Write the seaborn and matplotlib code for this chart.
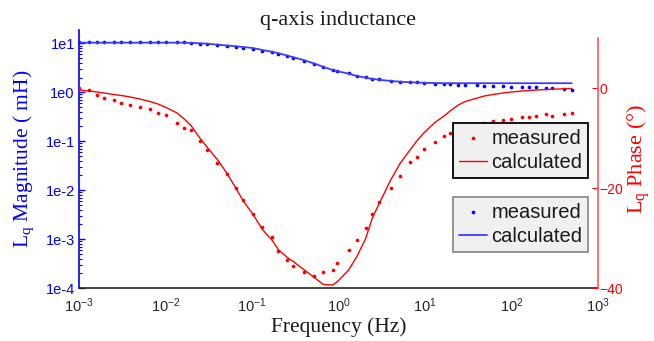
import numpy as np
import pandas as pd
import seaborn as sns
import matplotlib.pyplot as plt
from matplotlib.ticker import LogLocator, NullFormatter

# measurement frequencies (Hz)
freq = [0.001, 0.0013, 0.00163, 0.00196, 0.00252, 0.00308, 0.00392, 0.00504, 0.00656, 0.00818,
        0.0102, 0.0136, 0.0165, 0.0199, 0.0252, 0.0302, 0.0397, 0.0511, 0.0649, 0.0793,
        0.102, 0.132, 0.170, 0.201, 0.256, 0.300, 0.403, 0.516, 0.667, 0.857,
        0.962, 1.31, 1.62, 2.06, 2.46, 2.94, 4.01, 5.14, 6.71, 8.02,
        9.66, 13.2, 16.6, 19.5, 24.3, 29.2, 40.3, 48.5, 61.1, 79.1,
        99.5, 132, 161, 194, 252, 296, 407, 497]

# magnitude (mH)
mag_measured = [10.5, 10.5, 10.5, 10.5, 10.5, 10.5, 10.5, 10.5, 10.5, 10.5,
                10.5, 10.4, 10.4, 10.2, 9.7, 9.7, 9.1, 8.7, 8.4, 7.9,
                7.7, 7.0, 6.55, 5.96, 5.42, 5.1, 4.43, 3.85, 3.29, 2.90,
                2.77, 2.44, 2.19, 2.02, 1.87, 1.87, 1.73, 1.65, 1.63, 1.63,
                1.57, 1.48, 1.48, 1.48, 1.43, 1.41, 1.41, 1.36, 1.36, 1.32,
                1.28, 1.28, 1.28, 1.26, 1.24, 1.24, 1.15, 1.09]
mag_calculated = [10.3, 10.3, 10.3, 10.3, 10.3, 10.3, 10.3, 10.3, 10.3, 10.3,
                  10.3, 10.3, 10.3, 10.2, 10.0, 9.8, 9.4, 9.0, 8.7, 8.4,
                  8.0, 7.3, 6.7, 6.3, 5.6, 5.2, 4.5, 3.9, 3.3, 2.85,
                  2.7, 2.4, 2.15, 1.98, 1.87, 1.8, 1.7, 1.64, 1.6, 1.58,
                  1.56, 1.54, 1.53, 1.53, 1.53, 1.53, 1.53, 1.53, 1.53, 1.53,
                  1.53, 1.53, 1.53, 1.53, 1.53, 1.53, 1.53, 1.53]

# phase (degrees)
phase_measured = [0.1, -0.3, -1.3, -1.9, -2.3, -2.9, -3.3, -3.8, -4.1, -4.9,
                  -5.3, -6.9, -7.9, -8.3, -10.6, -12.3, -14.9, -17.1, -19.9, -22.3,
                  -25.1, -27.8, -29.8, -32.5, -34.3, -35.6, -36.8, -37.6, -36.8, -36.3,
                  -35.0, -32.4, -30.3, -27.9, -25.1, -22.8, -20.0, -17.5, -14.7, -13.7,
                  -12.1, -10.7, -9.6, -9.0, -8.3, -7.8, -7.2, -6.9, -6.6, -6.3,
                  -6.1, -5.7, -5.7, -5.6, -5.2, -5.5, -5.1, -4.9]
phase_calculated = [-0.4, -0.6, -0.8, -1.0, -1.3, -1.5, -1.8, -2.2, -2.7, -3.2,
                    -3.9, -5.0, -6.2, -7.6, -10.1, -11.8, -14.3, -17.0, -20.0, -22.6,
                    -25.2, -28.3, -30.4, -32.3, -33.9, -34.7, -36.4, -37.8, -39.3, -39.4,
                    -38.8, -36.4, -33.8, -30.1, -26.0, -23.2, -18.4, -15.1, -12.4, -10.6,
                    -9.0, -6.8, -5.6, -4.6, -3.4, -2.7, -2.0, -1.6, -1.3, -1.0,
                    -0.8, -0.6, -0.5, -0.4, -0.3, -0.25, -0.15, -0.1]

ytick_vals = [1e-4, 1e-3, 1e-2, 1e-1, 1e0, 1e1]
ytick_labels = ['1e-4', '1e-3', '1e-2', '1e-1', '1e0', '1e1']
xtick_vals = [1e-3, 1e-2, 1e-1, 1e0, 1e1, 1e2, 1e3]
xtick_labels = [r'$\mathsf{10^{%d}}$' % e for e in range(-3, 4)]
phase_ticks = [-40, -20, 0]

df = pd.DataFrame({'freq': freq, 'mag_meas': mag_measured, 'mag_calc': mag_calculated,
                   'ph_meas': phase_measured, 'ph_calc': phase_calculated})

sns.set_style('white')
plt.rcParams['font.family'] = ['Liberation Sans', 'DejaVu Sans']
plt.rcParams['mathtext.fontset'] = 'custom'
plt.rcParams['mathtext.rm'] = 'Liberation Serif'
plt.rcParams['mathtext.sf'] = 'Liberation Sans'
plt.rcParams['mathtext.it'] = 'Liberation Serif:italic'

blue = '#0000ff'
red = '#ff0000'
serif = 'Liberation Serif'

fig = plt.figure(figsize=(6.54, 3.41), dpi=100)
ax1 = fig.add_axes([79/654, 1 - 288/341, (598 - 79)/654, (288 - 30)/341])
ax1.set_xscale('log')
ax1.set_yscale('log')
ax2 = ax1.twinx()

sns.scatterplot(data=df, x='freq', y='mag_meas', ax=ax1, color=blue, s=7, linewidth=0, label='measured')
sns.lineplot(data=df, x='freq', y='mag_calc', ax=ax1, color='#3c3cff', lw=1.3, label='calculated')
sns.scatterplot(data=df, x='freq', y='ph_meas', ax=ax2, color=red, s=7, linewidth=0, label='measured')
sns.lineplot(data=df, x='freq', y='ph_calc', ax=ax2, color=red, lw=1.0, label='calculated')

ax1.set_xlim(1e-3, 1e3)
ax1.set_ylim(1e-4, 18.7)
ax2.set_ylim(-40, 11.6)

# spines
for s in ['top', 'right']:
    ax1.spines[s].set_visible(False)
for s in ['top', 'left', 'bottom']:
    ax2.spines[s].set_visible(False)
ax1.spines['left'].set_color(blue)
ax1.spines['bottom'].set_color('#262626')
ax2.spines['right'].set_color('#ff5a5a')
ax2.spines['right'].set_bounds(-40, 10)
for sp in [ax1.spines['left'], ax1.spines['bottom'], ax2.spines['right']]:
    sp.set_linewidth(1.2)

# ticks
ax1.set_xticks(xtick_vals, xtick_labels)
ax1.xaxis.set_minor_locator(LogLocator(base=10, subs=np.arange(2, 10), numticks=20))
ax1.xaxis.set_minor_formatter(NullFormatter())
ax1.set_yticks(ytick_vals, ytick_labels)
ax1.yaxis.set_minor_locator(LogLocator(base=10, subs=np.arange(2, 10), numticks=20))
ax1.yaxis.set_minor_formatter(NullFormatter())
ax1.tick_params(axis='x', which='both', direction='in', colors='#262626', labelsize=10.5, pad=6)
ax1.tick_params(axis='x', which='major', length=4.5, width=1)
ax1.tick_params(axis='x', which='minor', length=2.5, width=0.8)
ax1.tick_params(axis='y', which='both', direction='in', colors=blue, labelsize=10.5, pad=3)
ax1.tick_params(axis='y', which='major', length=4, width=1)
ax1.tick_params(axis='y', which='minor', length=2.5, width=0.8)
ax2.set_yticks(phase_ticks)
ax2.tick_params(axis='y', which='both', direction='in', colors=red, labelsize=10, pad=1, length=4)
ax2.minorticks_off()

ax1.set_xlabel('Frequency (Hz)', family=serif, fontsize=15.5, color='#1a1a1a', labelpad=2)
ax1.set_ylabel(r'L$_{\mathrm{q}}$ Magnitude ( mH)', family=serif, fontsize=15.5, color=blue, labelpad=7)
ax2.set_ylabel(r'L$_{\mathrm{q}}$ Phase (°)', family=serif, fontsize=16, color=red, labelpad=2)
ax1.set_title('q-axis inductance', family=serif, fontsize=16, color='#1a1a1a', pad=2)

leg_kw = dict(loc='upper left', bbox_transform=fig.transFigure, frameon=True, fancybox=False,
              facecolor='#f0f0f0', framealpha=1, fontsize=14.5, handlelength=1.4,
              handletextpad=0.2, labelspacing=0.25, borderpad=0.3, borderaxespad=0)
leg2 = ax2.legend(bbox_to_anchor=(453/654, 1 - 122.7/341), edgecolor='black', **leg_kw)
leg1 = ax1.legend(bbox_to_anchor=(453/654, 1 - 196.7/341), edgecolor='#8c8c8c', **leg_kw)
for leg in [leg1, leg2]:
    leg.get_frame().set_linewidth(1.3)
    for t in leg.get_texts():
        t.set_color('#1a1a1a')

fig.savefig('out.png', dpi=100)
